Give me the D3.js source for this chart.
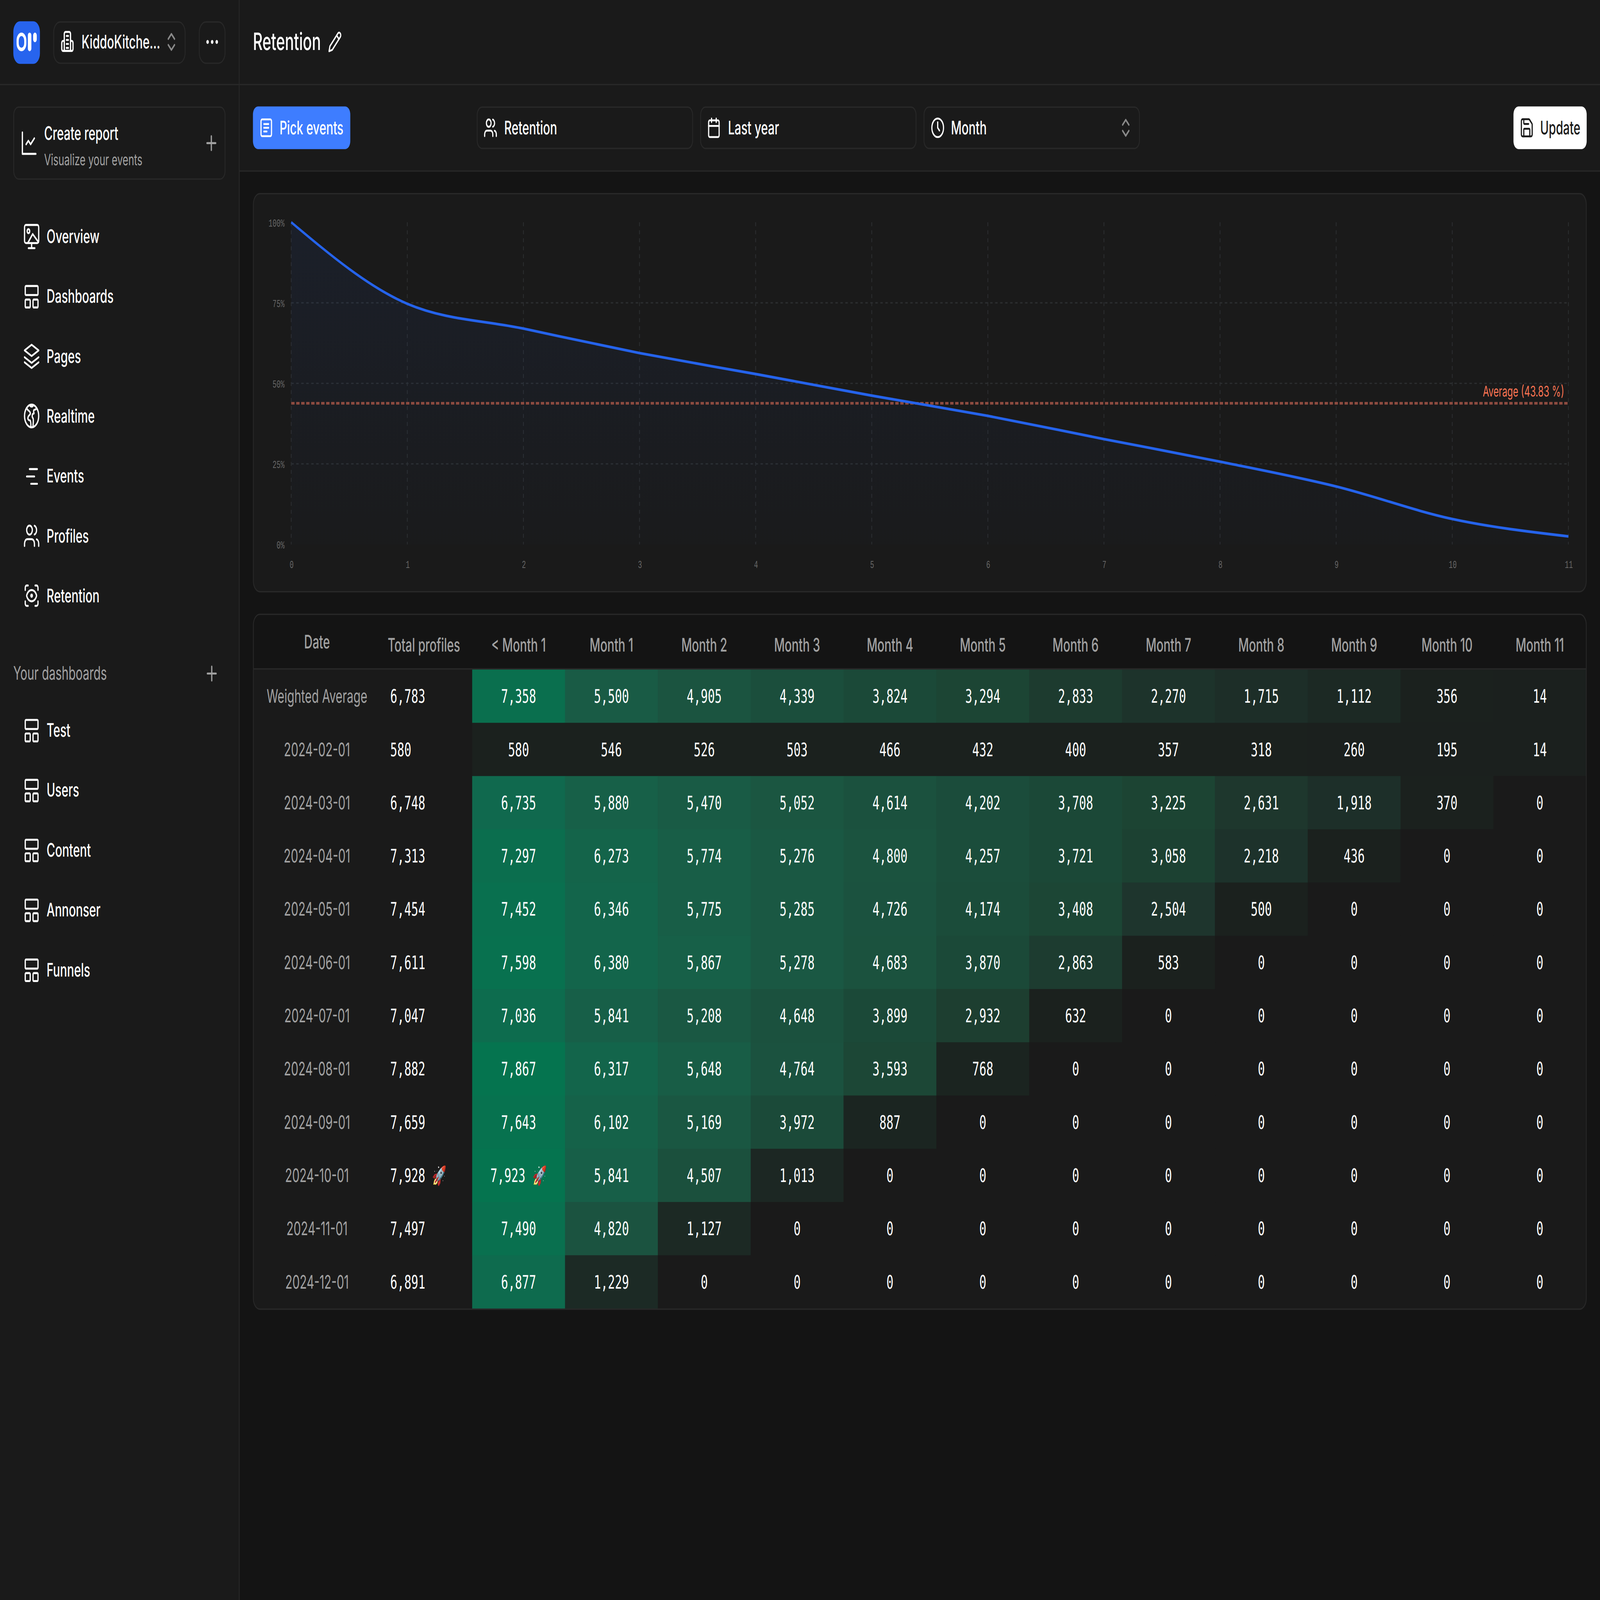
<!DOCTYPE html>
<html><head><meta charset="utf-8">
<script src="https://cdn.jsdelivr.net/npm/d3@7/dist/d3.min.js"></script>
<style>
html,body{margin:0;padding:0;background:#141414;width:100%;height:100%;overflow:hidden}
svg{display:block;width:100vw;height:100vh}
text{text-rendering:geometricPrecision}
</style></head><body>
<svg id="c"></svg>
<script>
// ---------- DATA ----------
const monthIndex = [0,1,2,3,4,5,6,7,8,9,10,11];
const retentionPct = [100,74.7,67.0,59.4,52.9,46.2,39.9,32.7,25.7,18.0,7.9,2.5];
const averagePct = 43.83;
const yTicks = [0,25,50,75,100];
const columnLabels = ["< Month 1","Month 1","Month 2","Month 3","Month 4","Month 5","Month 6","Month 7","Month 8","Month 9","Month 10","Month 11"];
const rowLabels = ["Weighted Average","2024-02-01","2024-03-01","2024-04-01","2024-05-01","2024-06-01","2024-07-01","2024-08-01","2024-09-01","2024-10-01","2024-11-01","2024-12-01"];
const totalProfiles = [6783,580,6748,7313,7454,7611,7047,7882,7659,7928,7497,6891];
const weightedAverage = [7358,5500,4905,4339,3824,3294,2833,2270,1715,1112,356,14];
const feb = [580,546,526,503,466,432,400,357,318,260,195,14];
const mar = [6735,5880,5470,5052,4614,4202,3708,3225,2631,1918,370,0];
const apr = [7297,6273,5774,5276,4800,4257,3721,3058,2218,436,0,0];
const may = [7452,6346,5775,5285,4726,4174,3408,2504,500,0,0,0];
const jun = [7598,6380,5867,5278,4683,3870,2863,583,0,0,0,0];
const jul = [7036,5841,5208,4648,3899,2932,632,0,0,0,0,0];
const aug = [7867,6317,5648,4764,3593,768,0,0,0,0,0,0];
const sep = [7643,6102,5169,3972,887,0,0,0,0,0,0,0];
const oct = [7923,5841,4507,1013,0,0,0,0,0,0,0,0];
const nov = [7490,4820,1127,0,0,0,0,0,0,0,0,0];
const dec = [6877,1229,0,0,0,0,0,0,0,0,0,0];
const cellRows = [weightedAverage,feb,mar,apr,may,jun,jul,aug,sep,oct,nov,dec];
const navItems = ["Overview","Dashboards","Pages","Realtime","Events","Profiles","Retention"];
const navIcons = ["overview","dash","layers","globe","events","users","eye"];
const dashboardItems = ["Test","Users","Content","Annonser","Funnels"];

// ---------- PAGE ----------
const W=1923,H=1202;
const svg=d3.select("#c").attr("viewBox",`0 0 ${W} ${H}`).attr("preserveAspectRatio","none");
const SANS="Inter, 'Noto Sans', sans-serif", MONO="'DejaVu Sans Mono', monospace", TICK="'Liberation Mono', monospace";
const BG="#141414",PANEL="#1a1a1a",BORDER="#282828",GRAY="#a1a1a1";
const defs=svg.append("defs");

const ICONS={
 chart:'<path d="M3 3v18h18"/><path d="m19 8-5 5-3-3-3 3"/>',
 building:'<path d="M7 21V4a2 2 0 0 1 2-2h6a2 2 0 0 1 2 2v17z"/><path d="M7 11H5a2 2 0 0 0-2 2v6a2 2 0 0 0 2 2h14a2 2 0 0 0 2-2v-6a2 2 0 0 0-2-2h-2"/><path d="M10.5 6h3M10.5 10h3M10.5 14h3M10.5 18h3"/>',
 plus:'<path d="M5 12h14M12 5v14"/>',
 chevrons:'<path d="m7 15 5 5 5-5"/><path d="m7 9 5-5 5 5"/>',
 overview:'<rect x="2" y="2" width="20" height="16" rx="2"/><circle cx="7.5" cy="7.5" r="1.8"/><path d="M7 17.5 13.5 10l8 7"/><path d="M12 18v4M7.5 22.5h9"/>',
 dash:'<rect x="3" y="3" width="18" height="8" rx="1"/><rect x="3" y="15" width="7" height="7" rx="1"/><rect x="14" y="15" width="7" height="7" rx="1"/>',
 layers:'<path d="m12 2 10 5-10 5L2 7z"/><path d="m2 13 10 5 10-5"/><path d="m2 17.5 10 5 10-5"/>',
 globe:'<circle cx="12" cy="12" r="10"/><path d="M5 5c2 3 4 2 5 4 1 2-2 2-3 4-1 2 1 3 3 3 1 1 1 4 1 6"/><path d="M19 5c-1 2-3 1-4 2-1 2 2 3-1 3-1 0-2 3 0 4 1 2 0 5 0 7"/><path d="M10 3c1 1 3 1 4 0"/>',
 events:'<path d="M9 6h11M5 12.5h11M11 19h9"/>',
 users:'<path d="M16 21v-2a4 4 0 0 0-4-4H6a4 4 0 0 0-4 4v2"/><circle cx="9" cy="7" r="4"/><path d="M22 21v-2a4 4 0 0 0-3-3.87"/><path d="M16 3.13a4 4 0 0 1 0 7.75"/>',
 eye:'<path d="M3 7V5a2 2 0 0 1 2-2h2"/><path d="M17 3h2a2 2 0 0 1 2 2v2"/><path d="M21 17v2a2 2 0 0 1-2 2h-2"/><path d="M7 21H5a2 2 0 0 1-2-2v-2"/><circle cx="12" cy="12" r="1"/><path d="M18.944 12.33a1 1 0 0 0 0-.66 7.5 7.5 0 0 0-13.888 0 1 1 0 0 0 0 .66 7.5 7.5 0 0 0 13.888 0"/>',
 calendar:'<rect x="3" y="4" width="18" height="18" rx="2"/><path d="M16 2v4M8 2v4M3 10h18"/>',
 clock:'<circle cx="12" cy="12" r="10"/><path d="M12 6v6l3 3"/>',
 save:'<path d="M15.2 3a2 2 0 0 1 1.4.6l3.8 3.8a2 2 0 0 1 .6 1.4V19a2 2 0 0 1-2 2H5a2 2 0 0 1-2-2V5a2 2 0 0 1 2-2z"/><path d="M17 21v-7a1 1 0 0 0-1-1H8a1 1 0 0 0-1 1v7"/><path d="M7 3v4a1 1 0 0 0 1 1h7"/>',
 pencil:'<path d="M17 3a2.85 2.83 0 1 1 4 4L7.5 20.5 2 22l1.5-5.5Z"/><path d="m15 5 4 4"/>',
 list:'<rect x="3" y="3" width="18" height="18" rx="2"/><path d="M8 8h8M8 12h8M8 16h5"/>'
};
function icon(name,cx,cy,s,color,sw){
  svg.append("g").attr("transform",`translate(${cx-12*s},${cy-12*s}) scale(${s})`)
    .attr("fill","none").attr("stroke",color||"#fff").attr("stroke-width",(sw||1.5)/s)
    .attr("stroke-linecap","round").attr("stroke-linejoin","round").html(ICONS[name]);
}
function label(x,y,t,o={}){
  return svg.append("text").attr("x",x).attr("y",y).text(t)
   .attr("font-family",o.family||SANS).attr("font-size",o.size||14).attr("font-weight",o.weight||500)
   .attr("fill",o.fill||"#fff").attr("text-anchor",o.anchor||"start");
}
function box(x,y,w,h,r,fill,stroke){
  return svg.append("rect").attr("x",x).attr("y",y).attr("width",w).attr("height",h).attr("rx",r)
   .attr("fill",fill||"none").attr("stroke",stroke||"none").attr("stroke-width",1);
}
// backgrounds
box(0,0,W,H,0,BG);
box(0,0,288,H,0,PANEL);
box(288,0,W-288,128,0,PANEL);
svg.append("path").attr("d",`M287.5 0V${H}M0 63.5H${W}M288 128.5H${W}`).attr("stroke",BORDER).attr("fill","none");

// sidebar header
box(16,16,32,32,8,"#2764ee");
box(21.2,25.8,9.2,11.4,4.6,"none","#fff").attr("stroke-width",2.6);
box(33.5,24.5,4.2,14,2.1,"#fff");
box(39.8,24.5,4.4,7.2,2.2,"#fff");
box(64.5,16.5,158,31,8,"none",BORDER);
icon("building",81,31.5,.75,"#fff",1.5);
label(98,36.5,"KiddoKitche\u2026");
icon("chevrons",206,31.5,.75,"#8a8a8a",1.5);
box(239.5,16.5,31,31,8,"none",BORDER);
[249.5,255,260.5].forEach(x=>svg.append("circle").attr("cx",x).attr("cy",31.5).attr("r",1.5).attr("fill","#fff"));

// create report
box(16.5,80.5,254,54,6,"none",BORDER);
icon("chart",35,107.5,.9,"#fff",1.5);
label(53,105,"Create report");
label(53,124,"Visualize your events",{size:11.8,weight:400,fill:GRAY});
icon("plus",254,107.5,.75,"#a1a1a1",1.5);

// nav
const navY=d3.scalePoint().domain(navItems).range([177.5,447.5]);
navItems.forEach((d,i)=>{
  icon(navIcons[i],38,navY(d),.85,"#fff",1.5);
  label(56,navY(d)+5,d);
});
label(16,510.5,"Your dashboards",{weight:400,fill:GRAY});
icon("plus",254.5,506,.75,"#a1a1a1",1.5);
const dashY=d3.scalePoint().domain(dashboardItems).range([548.5,728.5]);
dashboardItems.forEach(d=>{
  icon("dash",38,dashY(d),.85,"#fff",1.5);
  label(56,dashY(d)+5,d);
});

// top bar
label(304,37.5,"Retention",{size:18});
icon("pencil",402.5,31.5,.7,"#fff",1.4);
box(304,80,117,32,6,"#3e7dff");
icon("list",320,96,.7,"#fff",1.4);
label(336,101,"Pick events");
[[573,260,"users","Retention",589.5,606],[841.5,260,"calendar","Last year",858,875],[1110,260,"clock","Month",1127,1143]].forEach(b=>{
  box(b[0]+.5,80.5,b[1]-1,31,6,"none",BORDER);
  icon(b[2],b[4],96,.7,"#fff",1.4);
  label(b[5],101,b[3]);
});
icon("chevrons",1353,96,.75,"#8a8a8a",1.5);
box(1819,80,88,32,6,"#fff");
icon("save",1835,96,.72,"#1a1a1a",1.4);
label(1851,101,"Update",{fill:"#1a1a1a"});

// ---------- CHART ----------
box(304.5,145.5,1602,299,8,PANEL,BORDER);
const x=d3.scaleLinear().domain([0,11]).range([350,1885]);
const y=d3.scaleLinear().domain([0,100]).range([409,167]);
const grad=defs.append("linearGradient").attr("id","ag").attr("gradientUnits","userSpaceOnUse")
  .attr("x1",0).attr("x2",0).attr("y1",y(100)).attr("y2",y(0));
grad.append("stop").attr("offset",0).attr("stop-color","#2563eb").attr("stop-opacity",.075);
grad.append("stop").attr("offset",1).attr("stop-color","#2563eb").attr("stop-opacity",.01);
const grid=svg.append("g").attr("stroke","#2b2d2f").attr("stroke-width",1).attr("stroke-dasharray","3 3").attr("fill","none");
grid.selectAll("line.v").data(monthIndex).join("line").attr("class","v")
  .attr("x1",d=>x(d)).attr("x2",d=>x(d)).attr("y1",y(100)).attr("y2",y(0));
grid.selectAll("line.h").data(yTicks.filter(d=>d>0&&d<100)).join("line").attr("class","h")
  .attr("x1",x(0)).attr("x2",x(11)).attr("y1",d=>y(d)).attr("y2",d=>y(d));
const pts=monthIndex.map((m,i)=>({m,v:retentionPct[i]}));
svg.append("path").datum(pts).attr("fill","url(#ag)")
  .attr("d",d3.area().x(d=>x(d.m)).y0(y(0)).y1(d=>y(d.v)).curve(d3.curveMonotoneX));
svg.append("line").attr("x1",x(0)).attr("x2",x(11)).attr("y1",y(averagePct)).attr("y2",y(averagePct))
  .attr("stroke","#8d4b40").attr("stroke-width",2).attr("stroke-dasharray","4 2");
svg.append("path").datum(pts).attr("fill","none").attr("stroke","#2563eb").attr("stroke-width",2)
  .attr("d",d3.line().x(d=>x(d.m)).y(d=>y(d.v)).curve(d3.curveMonotoneX));
label(1880,298,`Average (${averagePct} %)`,{size:11,weight:400,fill:"#f97352",anchor:"end"});
const ax=svg.append("g").attr("transform",`translate(0,${y(0)})`)
  .call(d3.axisBottom(x).tickValues(monthIndex).tickFormat(d3.format("d")).tickSize(0).tickPadding(12));
const ay=svg.append("g").attr("transform",`translate(${x(0)},0)`)
  .call(d3.axisLeft(y).tickValues(yTicks).tickFormat(d=>d+"%").tickSize(0).tickPadding(8));
[ax,ay].forEach(a=>{a.select(".domain").remove();
  a.attr("font-family",TICK).attr("font-size",8).selectAll("text").attr("fill","#666");});

// ---------- TABLE ----------
const fmt=d3.format(",");
const tableTop=503,tableLeft=304.5,tableRight=1906.5;
const cp=defs.append("clipPath").attr("id","tc");
cp.append("rect").attr("x",tableLeft).attr("y",461.5).attr("width",tableRight-tableLeft).attr("height",522).attr("rx",8);
const tbl=svg.append("g").attr("clip-path","url(#tc)");
tbl.append("rect").attr("x",tableLeft).attr("y",461.5).attr("width",tableRight-tableLeft).attr("height",522).attr("fill",PANEL);
tbl.append("rect").attr("x",tableLeft).attr("y",461.5).attr("width",tableRight-tableLeft).attr("height",41).attr("fill",BG);
const colX=d3.scaleBand().domain(columnLabels).range([567.5,1906.5]);
const rowY=d3.scaleBand().domain(rowLabels).range([tableTop,983]);
const heat=d3.scaleLinear()
  .domain([0,1,600,1200,2000,2600,3200,4000,5000,5900,6800,7923])
  .range(["#1a1a1a","#1b201e","#1b211e","#1c2a25","#1d302a","#1e362d","#1c4433","#1b4a39","#1b5541","#176048","#0f6a4e","#05744f"])
  .clamp(true);
const rows=tbl.selectAll("g.row").data(cellRows).join("g").attr("class","row")
  .attr("transform",(d,i)=>`translate(0,${rowY(rowLabels[i])})`);
rows.selectAll("rect").data(d=>d).join("rect")
  .attr("x",(d,i)=>colX(columnLabels[i])).attr("width",colX.bandwidth()+.3).attr("y",0).attr("height",rowY.bandwidth()+.3)
  .attr("fill",d=>heat(d));
const topCell=d3.max(cellRows.flat()), topTotal=d3.max(totalProfiles);
function valueLabel(v,best){return fmt(v)+(v===best?" \u{1F680}":"");}
rows.selectAll("text.v").data(d=>d).join("text").attr("class","v")
  .attr("x",(d,i)=>colX(columnLabels[i])+colX.bandwidth()/2).attr("y",rowY.bandwidth()/2+5)
  .attr("text-anchor","middle").attr("font-family",MONO).attr("font-size",14).attr("fill","#fff")
  .text(d=>valueLabel(d,topCell));
rows.append("text").attr("x",381).attr("y",rowY.bandwidth()/2+5).attr("text-anchor","middle")
  .attr("font-family",SANS).attr("font-size",14).attr("fill",GRAY).text((d,i)=>rowLabels[i]);
rows.append("text").attr("x",469).attr("y",rowY.bandwidth()/2+5)
  .attr("font-family",MONO).attr("font-size",14).attr("fill","#fff").text((d,i)=>valueLabel(totalProfiles[i],topTotal));
svg.selectAll("text.hd").data(columnLabels).join("text").attr("class","hd")
  .attr("x",d=>colX(d)+colX.bandwidth()/2).attr("y",489.5).attr("text-anchor","middle")
  .attr("font-family",SANS).attr("font-size",14).attr("font-weight",500).attr("fill",GRAY).text(d=>d);
label(381,487,"Date",{fill:GRAY,anchor:"middle"});
label(466,489.5,"Total profiles",{fill:GRAY});
box(tableLeft,461.5,tableRight-tableLeft,522,8,"none",BORDER);
svg.append("line").attr("x1",tableLeft).attr("x2",tableRight).attr("y1",502.5).attr("y2",502.5).attr("stroke",BORDER);
</script>
</body></html>
